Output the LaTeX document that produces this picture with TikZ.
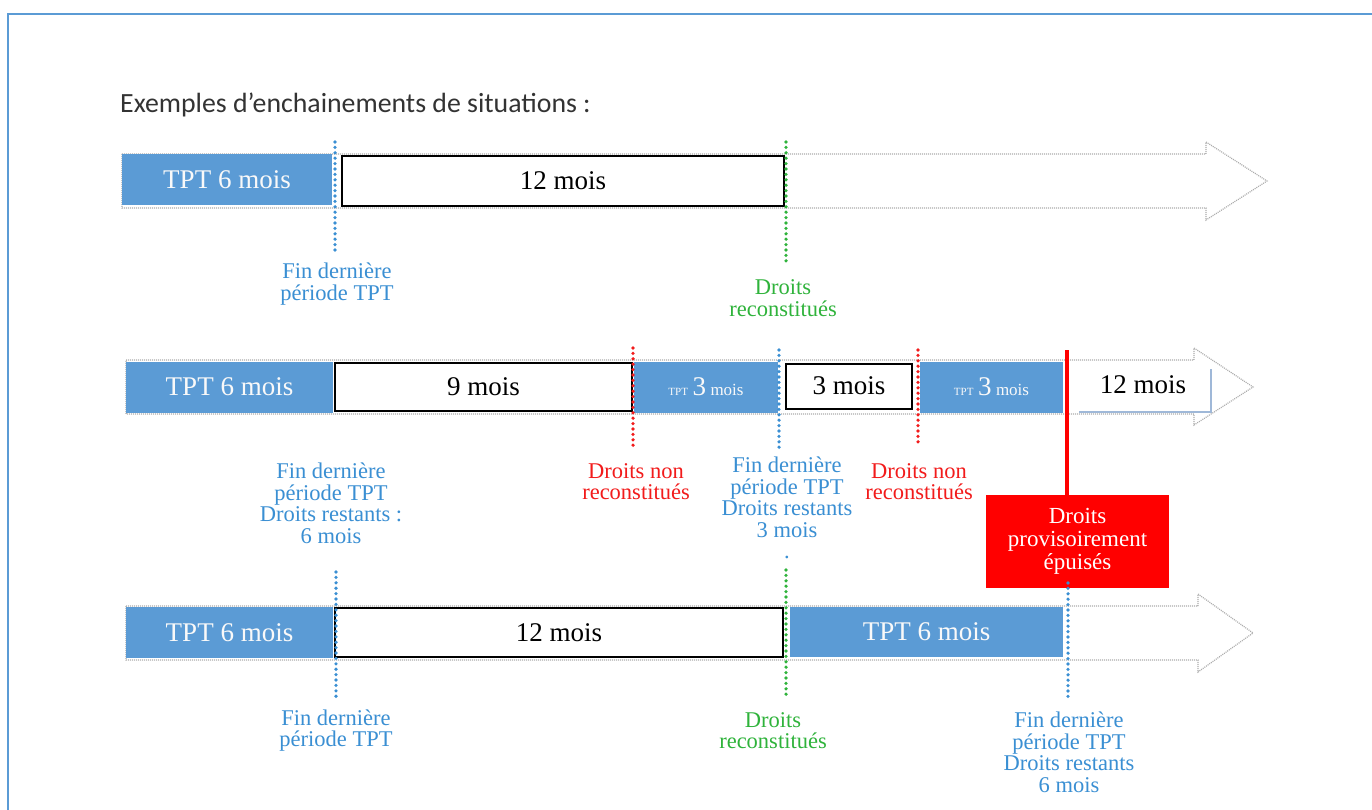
\documentclass[tikz,border=0pt]{standalone}
\usepackage{fontspec}
\setmainfont{Liberation Serif}
\newfontfamily\titlefont{Carlito}
\begin{document}
\begin{tikzpicture}[x=1pt,y=-1pt,
  band/.style={draw=gray!65, line width=1.2pt, dash pattern=on 1pt off 1pt, fill=white},
  bluebox/.style={fill=boxblue, draw=none, inner sep=0pt, text=white!95!gray, font=\fontsize{27}{27}\selectfont},
  whitebox/.style={fill=white, draw=black, line width=2pt, inner sep=0pt, font=\fontsize{27}{27}\selectfont},
  lbl/.style={align=center, inner sep=0pt, font=\fontsize{22.5}{21.5}\selectfont},
  bluelbl/.style={lbl, text=lblblue},
  greenlbl/.style={lbl, text=lblgreen},
  redlbl/.style={lbl, text=lblred},
  dotmark/.style={line width=3.6pt, dash pattern=on 0pt off 5.4pt, line cap=round},
  bluemark/.style={dotmark, draw=lblblue},
  greenmark/.style={dotmark, draw=lblgreen},
  redmark/.style={dotmark, draw=lblred},
]
\definecolor{boxblue}{HTML}{5B9BD5}
\definecolor{lblblue}{HTML}{3A8FD3}
\definecolor{lblgreen}{HTML}{2FB33B}
\definecolor{lblred}{HTML}{F21B1B}
\definecolor{framblue}{HTML}{5B9BD5}
\definecolor{edgeblue}{HTML}{9FB8D8}
\useasboundingbox (0,0) rectangle (1372,810);
\fill[white] (0,0) rectangle (1372,810);
% frame
\draw[framblue, line width=1.5pt] (8,810) -- (8,14) -- (1372,14);
% title
\node[anchor=west, inner sep=0pt, font=\titlefont\fontsize{27.8}{27.8}\selectfont, text=black!80] (title) at (120,105) {Exemples d’enchainements de situations :};

% ---------- Row 1 ----------
\draw[band] (122,154) -- (1206,154) -- (1206,142) -- (1267,181) -- (1206,220) -- (1206,208) -- (122,208) -- cycle;
\node[bluebox, minimum width=210pt, minimum height=51pt] (r1a) at (227,180) {TPT 6 mois};
\node[whitebox, minimum width=442pt, minimum height=50pt] (r1b) at (563,181) {12 mois};
\coordinate (m1t) at (335,142); \coordinate (m1b) at (335,251);
\draw[bluemark] (m1t) -- (m1b);
\coordinate (m2t) at (786,142); \coordinate (m2b) at (786,262);
\draw[greenmark] (m2t) -- (m2b);
\node[bluelbl] (l1) at (337,284) {Fin dernière\\période TPT};
\node[greenlbl] (l2) at (783,298) {Droits\\reconstitués};

% ---------- Row 2 ----------
\draw[band] (126,360) -- (1194,360) -- (1194,348) -- (1253,387) -- (1194,425) -- (1194,414) -- (126,414) -- cycle;
\node[bluebox, minimum width=207pt, minimum height=51pt] (r2a) at (229.5,387) {TPT 6 mois};
\node[whitebox, minimum width=297pt, minimum height=48pt] (r2b) at (483.5,387) {9 mois};
\node[bluebox, minimum width=144pt, minimum height=51pt] (r2c) at (706,387) {{\fontsize{11}{11}\selectfont TPT}\,3\,{\fontsize{17}{17}\selectfont mois}};
\node[whitebox, minimum width=126pt, minimum height=45pt] (r2d) at (849,386) {3 mois};
\node[bluebox, minimum width=143pt, minimum height=51pt] (r2e) at (991.5,387) {{\fontsize{11}{11}\selectfont TPT}\,3\,{\fontsize{17}{17}\selectfont mois}};
\node[inner sep=0pt, font=\fontsize{27}{27}\selectfont] (r2f) at (1143,385) {12 mois};
\draw[edgeblue, line width=1.5pt] (1079,412) -- (1211,412) -- (1211,369);
\coordinate (m3t) at (633,348); \coordinate (m3b) at (633,447);
\draw[redmark] (m3t) -- (m3b);
\coordinate (m4t) at (779,350); \coordinate (m4b) at (779,448);
\draw[bluemark] (m4t) -- (m4b);
\coordinate (m5t) at (918,350); \coordinate (m5b) at (918,447);
\draw[redmark] (m5t) -- (m5b);
\node[bluelbl] (l3) at (331,503.5) {Fin dernière\\période TPT\\Droits restants :\\6 mois};
\node[redlbl] (l4) at (636,481.5) {Droits non\\reconstitués};
\node[bluelbl, anchor=north] (l5) at (787,457) {Fin dernière\\période TPT\\Droits restants\\3 mois\\.};
\node[redlbl] (l6) at (919,481.5) {Droits non\\reconstitués};

% ---------- Row 3 ----------
\draw[band] (126,606) -- (1198,606) -- (1198,594) -- (1253,633) -- (1198,672) -- (1198,660) -- (126,660) -- cycle;
\node[bluebox, minimum width=207pt, minimum height=51pt] (r3a) at (229.5,632.5) {TPT 6 mois};
\node[whitebox, minimum width=448pt, minimum height=49pt] (r3b) at (559,632.5) {12 mois};
\node[bluebox, minimum width=273pt, minimum height=50pt] (r3c) at (926.5,632) {TPT 6 mois};
\coordinate (m6t) at (336,572); \coordinate (m6b) at (336,697);
\draw[bluemark] (m6t) -- (m6b);
\coordinate (m7t) at (786,570); \coordinate (m7b) at (786,695);
\draw[greenmark] (m7t) -- (m7b);
\node[bluelbl] (l7) at (336,730.5) {Fin dernière\\période TPT};
\node[greenlbl] (l8) at (773,730.5) {Droits\\reconstitués};
\node[bluelbl] (l9) at (1069,752.5) {Fin dernière\\période TPT\\Droits restants\\6 mois};

% ---------- red box ----------
\node[fill=red, inner sep=0pt, minimum width=183pt, minimum height=93pt, align=center, text=white, font=\fontsize{23}{23}\selectfont] (rb) at (1077.5,541.5) {Droits\\provisoirement\\épuisés};
\coordinate (rt) at (1067,350);
\draw[red, line width=4pt] (rt) -- (rt |- rb.north);
\coordinate (m8t) at (1068,583); \coordinate (m8b) at (1068,697);
\draw[bluemark] (m8t) -- (m8b);
\end{tikzpicture}
\end{document}
